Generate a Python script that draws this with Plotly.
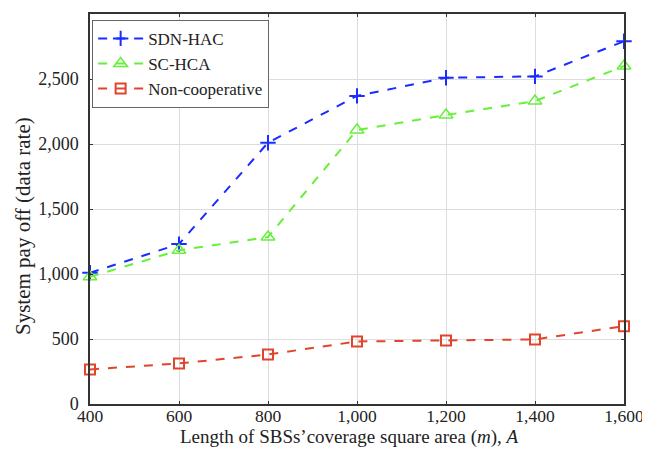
import plotly.graph_objects as go

x_vals = [400, 600, 800, 1000, 1200, 1400, 1600]
sdn_hac = [1010, 1230, 2010, 2370, 2510, 2520, 2790]
sc_hca = [978, 1182, 1284, 2108, 2223, 2330, 2600]
non_coop = [266, 312, 381, 481, 489, 497, 599]

x_ticks = [400, 600, 800, 1000, 1200, 1400, 1600]
x_labels = ["400", "600", "800", "1,000", "1,200", "1,400", "1,600"]
y_ticks = [0, 500, 1000, 1500, 2000, 2500, 3000]
y_labels = ["0", "500", "1,000", "1,500", "2,000", "2,500", "3,000"]

x_title = "Length of SBSs\u2019coverage square area (<i>m</i>), <i>A</i>"
y_title = "System pay off (data rate)"

SERIF = "Liberation Serif, Times New Roman, serif"

fig = go.Figure()
fig.add_trace(go.Scatter(x=x_vals, y=sdn_hac, name="SDN-HAC", mode="lines+markers",
                         line=dict(color="#1a2cff", width=2, dash="dash"),
                         marker=dict(symbol="cross-thin-open", size=11,
                                     line=dict(color="#1a2cff", width=2)),
                         cliponaxis=False))
fig.add_trace(go.Scatter(x=x_vals, y=sc_hca, name="SC-HCA", mode="lines+markers",
                         line=dict(color="#66f03a", width=2, dash="dash"),
                         marker=dict(symbol="triangle-up-open", size=12,
                                     line=dict(color="#66f03a", width=1.5)),
                         cliponaxis=False))
fig.add_trace(go.Scatter(x=x_vals, y=non_coop, name="Non-cooperative", mode="lines+markers",
                         line=dict(color="#e0452c", width=2, dash="dash"),
                         marker=dict(symbol="square-open", size=10,
                                     line=dict(color="#e0452c", width=2)),
                         cliponaxis=False))

axis_common = dict(showline=True, linecolor="#333333", linewidth=1.5, mirror="ticks",
                   ticks="inside", ticklen=3, tickcolor="#333333",
                   showgrid=True, gridcolor="#dddddd", gridwidth=1, zeroline=False,
                   automargin=False)

fig.update_layout(
    width=650, height=442,
    margin=dict(l=82, r=34, t=6, b=46),
    paper_bgcolor="white", plot_bgcolor="white",
    font=dict(family=SERIF, size=17, color="#222222"),
    xaxis=dict(range=[400, 1600], tickvals=x_ticks, ticktext=x_labels,
               ticklabelstandoff=-5,
               tickfont=dict(family=SERIF, size=17.5, color="#222222"),
               **axis_common),
    yaxis=dict(range=[0, 3000], tickvals=y_ticks, ticktext=y_labels,
               ticklabelstandoff=6,
               tickfont=dict(family=SERIF, size=18, color="#222222"),
               **axis_common),
    legend=dict(x=0.004, y=0.985, xanchor="left", yanchor="top",
                bordercolor="#666666", borderwidth=1, bgcolor="white",
                font=dict(family=SERIF, size=17),
                tracegroupgap=0, itemwidth=45),
    showlegend=True,
    annotations=[
        dict(text=x_title, xref="paper", yref="paper", x=0.5, y=0,
             xanchor="center", yanchor="bottom", xshift=-8, yshift=-46,
             showarrow=False, font=dict(family=SERIF, size=19, color="#222222")),
        dict(text=y_title, xref="paper", yref="paper", x=0, y=0.5,
             xanchor="center", yanchor="middle", xshift=-67, yshift=-17,
             textangle=-90, showarrow=False,
             font=dict(family=SERIF, size=21, color="#222222")),
    ],
)

fig.write_html("out.html")
